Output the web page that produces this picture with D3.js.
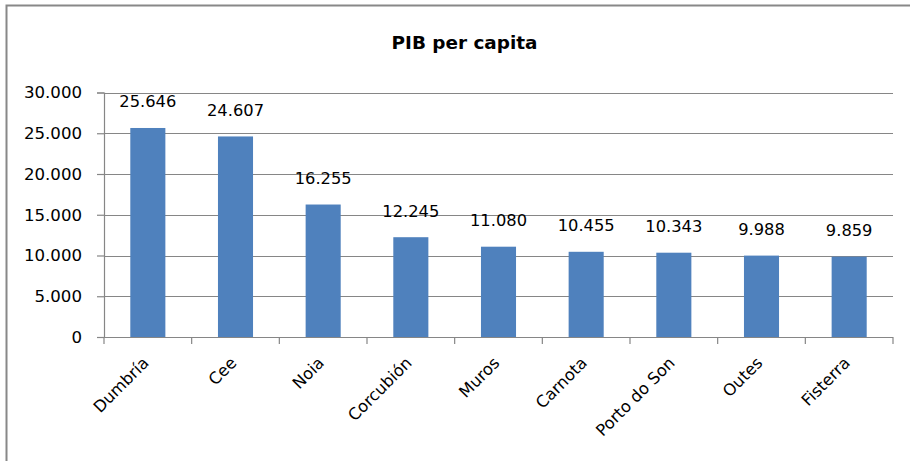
<!DOCTYPE html>
<html><head><meta charset="utf-8">
<script src="https://cdn.jsdelivr.net/npm/d3@7"></script>
<style>body{margin:0;background:#fff}svg{display:block}text{font-family:"DejaVu Sans",sans-serif;fill:#000}</style>
</head><body>
<script>
const categories = ["Dumbría","Cee","Noia","Corcubión","Muros","Carnota","Porto do Son","Outes","Fisterra"];
const values = [25646,24607,16255,12245,11080,10455,10343,9988,9859];
const yTicks = [0,5000,10000,15000,20000,25000,30000];
const title = "PIB per capita";

const W=910,H=461;
const svg=d3.select("body").append("svg").attr("width",W).attr("height",H);
svg.append("rect").attr("x",6.5).attr("y",5.5).attr("width",W).attr("height",H).attr("fill","#fff").attr("stroke","#888").attr("stroke-width",2);

const fmt = v => d3.format(",")(v).replace(/,/g,".");
const x=d3.scaleBand().domain(categories).range([104,893]).paddingInner(0.6).paddingOuter(0.3);
const xb=d3.scaleBand().domain(categories).range([104,893]);
const y=d3.scaleLinear().domain([0,30000]).range([337,92.5]);

const grid="#868686";
svg.append("g").selectAll("line").data(yTicks.filter(d=>d>0)).join("line")
 .attr("x1",104).attr("x2",893).attr("y1",d=>Math.round(y(d))+0.5).attr("y2",d=>Math.round(y(d))+0.5)
 .attr("stroke",grid).attr("stroke-width",1.2);

svg.append("g").selectAll("rect").data(values).join("rect")
 .attr("x",(d,i)=>x(categories[i])).attr("width",x.bandwidth())
 .attr("y",d=>y(d)).attr("height",d=>y(0)-y(d)).attr("fill","#4F81BD");

const ya=svg.append("g").attr("transform","translate(104,0)")
 .call(d3.axisLeft(y).tickValues(yTicks).tickFormat(fmt).tickSize(7).tickPadding(15));
ya.select(".domain").attr("stroke",grid).attr("stroke-width",1.2);
ya.selectAll(".tick line").attr("stroke",grid).attr("stroke-width",1.2);
ya.selectAll("text").attr("font-size",16.6).attr("font-family","DejaVu Sans").attr("fill","#000");

svg.append("line").attr("x1",104).attr("x2",893).attr("y1",337.5).attr("y2",337.5).attr("stroke",grid).attr("stroke-width",1.2);
svg.append("g").selectAll("line").data(categories.concat(["_end"])).join("line")
 .attr("x1",(d,i)=>i<categories.length?xb(d):xb.range()[1]).attr("x2",(d,i)=>i<categories.length?xb(d):xb.range()[1])
 .attr("y1",337).attr("y2",344).attr("stroke",grid).attr("stroke-width",1.2);

svg.append("g").selectAll("text").data(categories).join("text")
 .attr("transform",d=>`translate(${xb(d)+xb.bandwidth()/2+2},${364}) rotate(-45)`)
 .attr("text-anchor","end").attr("font-size",16.3).text(d=>d);

svg.append("g").selectAll("text").data(values).join("text")
 .attr("x",(d,i)=>x(categories[i])+x.bandwidth()/2).attr("y",d=>y(d)-20.5)
 .attr("text-anchor","middle").attr("font-size",16.3).text(fmt);

svg.append("text").attr("x",464.5).attr("y",48.6).attr("text-anchor","middle")
 .attr("font-size",18.4).attr("font-weight","bold").text(title);
</script>
</body></html>
